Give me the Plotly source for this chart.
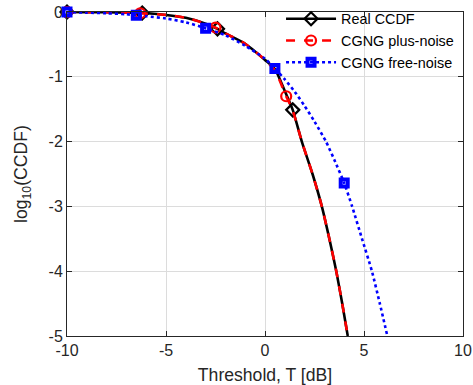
import plotly.graph_objects as go

# ---- data ----
x_real = [-10, -9, -8, -7, -6.2, -5, -4, -3, -2.4, -2, -1, 0, 0.5, 1.0, 1.4, 1.86, 2.4, 2.87, 3.25, 3.6, 3.9, 4.18]
y_real = [0, -0.002, -0.005, -0.01, -0.015, -0.045, -0.09, -0.18, -0.26, -0.33, -0.49, -0.74, -0.88, -1.22, -1.51, -2.0, -2.5, -3.0, -3.5, -4.0, -4.5, -5.0]
real_marks = [0, 4, 8, 14]

x_plus = [-10, -9, -8, -7, -6.3, -5, -4, -3, -2.5, -2, -1, 0, 0.5, 1.07, 1.4, 1.86, 2.4, 2.87, 3.25, 3.6, 3.9, 4.18]
y_plus = [0, -0.002, -0.005, -0.01, -0.02, -0.045, -0.09, -0.18, -0.24, -0.33, -0.49, -0.74, -0.9, -1.3, -1.52, -2.0, -2.5, -3.0, -3.5, -4.0, -4.5, -5.0]
plus_marks = [0, 4, 8, 13]

x_free = [-10, -9, -8, -7, -6.5, -6, -5, -4, -3, -2, -1, 0, 0.5, 1, 1.5, 2, 2.5, 3.08, 3.5, 4.0, 4.4, 4.9, 5.4, 5.8, 6.18]
y_free = [0, -0.01, -0.02, -0.035, -0.05, -0.065, -0.1, -0.16, -0.25, -0.36, -0.52, -0.72, -0.87, -1.04, -1.23, -1.45, -1.69, -2.0, -2.28, -2.64, -3.0, -3.5, -4.0, -4.5, -5.0]
free_marks = [0, 4, 8, 12, 19]

names = ["Real CCDF", "CGNG plus-noise", "CGNG free-noise"]
x_ticks = [-10, -5, 0, 5, 10]
x_ticktext = ["-10", "-5", "0", "5", "10"]
y_ticks = [0, -1, -2, -3, -4, -5]
y_ticktext = ["0", "-1", "-2", "-3", "-4", "-5"]

FONT = "Liberation Sans, Arial, sans-serif"
AX = "#262626"

styles = [
    dict(color="black", dash="solid", symbol="diamond-open", msize=10, mlw=2.2),
    dict(color="#ff0000", dash="dash", symbol="circle-open", msize=10, mlw=2.2),
    dict(color="#0000ff", dash="dot", symbol="square-open", msize=7, mlw=4),
]
series = [(x_real, y_real, real_marks), (x_plus, y_plus, plus_marks), (x_free, y_free, free_marks)]

fig = go.Figure()
for (xs, ys, mk), st, nm in zip(series, styles, names):
    fig.add_trace(go.Scatter(
        x=xs, y=ys, mode="lines", showlegend=False,
        line=dict(color=st["color"], dash=st["dash"], width=2.6, shape="spline", smoothing=0.6),
    ))
    fig.add_trace(go.Scatter(
        x=[xs[i] for i in mk], y=[ys[i] for i in mk], mode="markers", showlegend=False,
        cliponaxis=False,
        marker=dict(symbol=st["symbol"], size=st["msize"], color=st["color"],
                    line=dict(color=st["color"], width=st["mlw"])),
    ))

for st, nm in zip(styles, names):
    fig.add_trace(go.Scatter(
        x=[None], y=[None], mode="lines+markers", name=nm,
        line=dict(color=st["color"], dash=st["dash"], width=2.6),
        marker=dict(symbol=st["symbol"], size=st["msize"], color=st["color"],
                    line=dict(color=st["color"], width=st["mlw"])),
    ))

fig.update_layout(
    template="none",
    width=473, height=385,
    margin=dict(l=67, r=10, t=12, b=49, autoexpand=False),
    paper_bgcolor="white", plot_bgcolor="white",
    font=dict(family=FONT, color=AX, size=16),
    legend=dict(
        x=0.99, y=1.028, xanchor="right", yanchor="top",
        bgcolor="rgba(0,0,0,0)", borderwidth=0,
        font=dict(family=FONT, size=14.4, color="black"),
        itemwidth=50, tracegroupgap=0,
    ),
    shapes=[dict(
        type="rect", xref="paper", yref="paper", x0=0.545, x1=1.0, y0=0.835, y1=1.0,
        fillcolor="white", line=dict(width=0), layer="between",
    )],
    xaxis=dict(
        automargin=False,
        range=[-10, 10], tickvals=x_ticks, ticktext=x_ticktext,
        showgrid=True, gridcolor="#dcdcdc", gridwidth=1,
        showline=True, linecolor=AX, linewidth=1, mirror="ticks",
        ticks="inside", ticklen=5, tickcolor=AX, zeroline=False,
        tickfont=dict(size=16, color=AX),
        title=dict(text="Threshold, T [dB]", font=dict(size=17.6, color=AX)),
    ),
    yaxis=dict(
        automargin=False,
        range=[-5, 0], tickvals=y_ticks, ticktext=y_ticktext,
        showgrid=True, gridcolor="#dcdcdc", gridwidth=1,
        showline=True, linecolor=AX, linewidth=1, mirror="ticks",
        ticks="inside", ticklen=5, tickcolor=AX, zeroline=False,
        tickfont=dict(size=16, color=AX),
    ),
    annotations=[dict(
        text="log<sub>10</sub>(CCDF)", xref="paper", yref="paper",
        x=0, y=0.5, xanchor="center", yanchor="middle", xshift=-45,
        textangle=-90, showarrow=False, font=dict(size=17.6, color=AX, family=FONT),
    )],
)

fig.write_html("out.html")
